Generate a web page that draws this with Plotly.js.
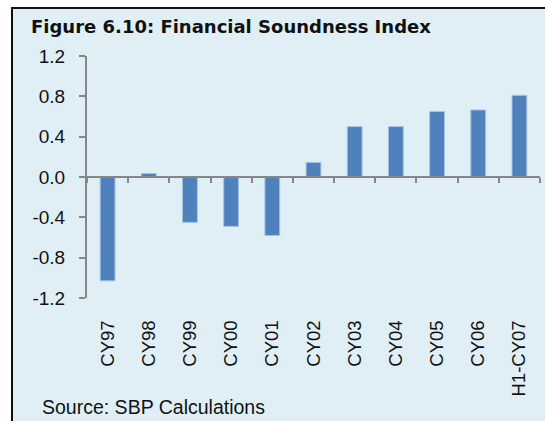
<!DOCTYPE html>
<html>
<head>
<meta charset="utf-8">
<script src="https://cdn.plot.ly/plotly-3.0.1.min.js"></script>
<style>
  html, body { margin: 0; padding: 0; background: #ffffff; width: 545px; height: 421px; overflow: hidden; }
  #frame { position: absolute; left: 11px; top: 7px; width: 534px; height: 414px;
           border-left: 2px solid #111; border-top: 2px solid #111; background: #E0EFF6; }
  #chart { position: absolute; left: 0; top: 0; width: 532px; height: 412px; }
</style>
</head>
<body>
<div id="frame"><div id="chart"></div></div>
<script>
const categories = ["CY97","CY98","CY99","CY00","CY01","CY02","CY03","CY04","CY05","CY06","H1-CY07"];
const values = [-1.03, 0.035, -0.45, -0.49, -0.58, 0.145, 0.50, 0.50, 0.65, 0.665, 0.81];
const titleText = "Figure 6.10: Financial Soundness Index";
const sourceText = "Source: SBP Calculations";
const yTicks = [-1.2, -0.8, -0.4, 0.0, 0.4, 0.8, 1.2];
const yTickText = yTicks.map(v => v.toFixed(1));

const trace = {
  type: "bar",
  x: categories,
  y: values,
  marker: { color: "#4F81BD", line: { color: "#A7C2E2", width: 1 } },
  width: 0.36,
  hoverinfo: "skip"
};

const font = "'Liberation Sans', Arial, sans-serif";
const layout = {
  width: 532, height: 412,
  margin: { l: 74, r: 5, t: 47, b: 123, pad: 0 },
  paper_bgcolor: "rgba(0,0,0,0)",
  plot_bgcolor: "rgba(0,0,0,0)",
  showlegend: false,
  title: {
    text: "<b>" + titleText + "</b>",
    font: { family: "'DejaVu Sans', Verdana, sans-serif", size: 18, color: "#111" },
    xref: "container", x: 18/532, xanchor: "left",
    yref: "container", y: 1 - 11/412, yanchor: "top"
  },
  xaxis: {
    type: "category",
    anchor: "free", position: 0.5,
    showline: true, linecolor: "#868686", linewidth: 2,
    ticks: "outside", ticklen: 5, tickwidth: 2, tickcolor: "#868686",
    tickson: "boundaries",
    tickangle: -90,
    ticklabelstandoff: 135,
    tickfont: { family: font, size: 18.5, color: "#111" },
    showgrid: false, zeroline: false
  },
  yaxis: {
    range: [-1.2, 1.2],
    tickvals: yTicks,
    ticktext: yTickText,
    showline: true, linecolor: "#868686", linewidth: 2,
    ticks: "outside", ticklen: 6, tickwidth: 2, tickcolor: "#868686",
    ticklabelstandoff: 10,
    tickfont: { family: font, size: 19, color: "#111" },
    showgrid: false, zeroline: false
  },
  annotations: [{
    text: sourceText,
    xref: "paper", yref: "paper",
    x: (27 - 74) / 453, xanchor: "left",
    y: -0.45, yanchor: "middle",
    showarrow: false,
    font: { family: font, size: 19.5, color: "#111" }
  }]
};

Plotly.newPlot("chart", [trace], layout, { displayModeBar: false, staticPlot: true });
</script>
</body>
</html>
